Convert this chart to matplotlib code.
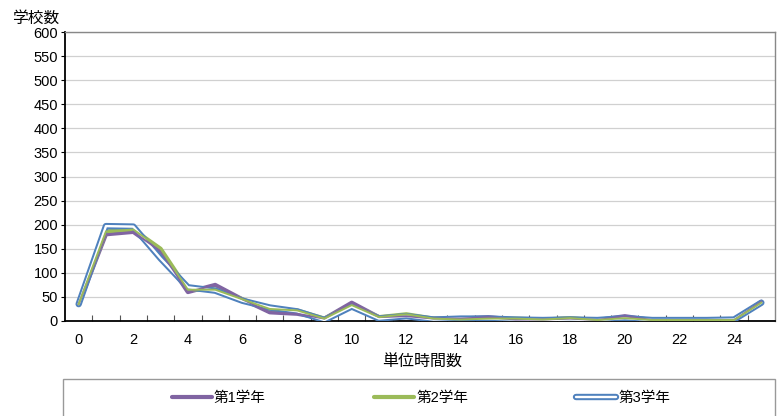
import numpy as np
import matplotlib.pyplot as plt
import matplotlib.patheffects as pe
from matplotlib.lines import Line2D
from matplotlib.patches import Rectangle

plt.rcParams['font.family'] = ['Liberation Sans', 'Noto Sans CJK JP']

# number of unit hours (categories) and schools per grade
hours   = np.arange(0, 26)
grade1  = [35, 180, 185, 145, 60, 75, 45, 18, 15, 5, 38, 8, 10, 5, 5, 8, 3, 3, 5, 2, 10, 2, 2, 2, 2, 40]
grade2  = [35, 186, 190, 150, 65, 65, 45, 25, 22, 5, 33, 8, 14, 5, 3, 5, 5, 3, 6, 2, 6, 2, 2, 2, 2, 38]
grade3  = [35, 197, 196, 130, 70, 63, 42, 28, 20, 2, 30, 5, 10, 3, 5, 5, 3, 2, 3, 2, 6, 2, 2, 2, 3, 38]
labels  = ['第1学年', '第2学年', '第3学年']

c_purple = '#8064A2'
c_green  = '#9BBB59'
c_blue   = '#4F81BD'

fig = plt.figure(figsize=(7.77, 4.16), dpi=100)
ax  = fig.add_axes([65/777, 1 - 321/416, 710/777, 289/416])

# solid series underneath, double-outline series on top
ax.plot(hours, grade1, color=c_purple, lw=3.0, zorder=3, solid_joinstyle='round', solid_capstyle='round')
ax.plot(hours, grade2, color=c_green,  lw=3.0, zorder=3, solid_joinstyle='round', solid_capstyle='round')
double = [pe.Stroke(linewidth=4.6, foreground=c_blue), pe.Normal()]
ax.plot(hours, grade3, color='white', lw=1.7, zorder=4, solid_joinstyle='round', solid_capstyle='round',
        path_effects=double)
# let the lines below show through the hollow centre
ax.plot(hours, grade1, color=c_purple, lw=1.4, zorder=5, solid_joinstyle='round')
ax.plot(hours, grade2, color=c_green,  lw=1.4, zorder=5, solid_joinstyle='round')

ax.set_xlim(-0.5, 25.5)
ax.set_ylim(0, 600)
ax.set_yticks(np.arange(0, 601, 50))
ax.set_xticks(np.arange(0, 25, 2))
ax.set_xticks(np.arange(0.5, 25, 1), minor=True)
ax.tick_params(axis='x', which='major', length=0, labelsize=10.5, pad=9)
ax.tick_params(axis='x', which='minor', direction='in', length=4, width=0.8, color='#555555')
ax.tick_params(axis='y', length=3, labelsize=10.5, pad=2)
ax.grid(axis='y', color='#d0d0d0', lw=0.9, zorder=0)
ax.set_axisbelow(True)

for side in ('left', 'bottom'):
    ax.spines[side].set_color('black')
    ax.spines[side].set_linewidth(1.3)
for side in ('top', 'right'):
    ax.spines[side].set_color('#888888')
    ax.spines[side].set_linewidth(1.0)

fig.text(12/777, 1 - 18/416, '学校数', fontsize=11.3, va='center', ha='left')
fig.text(422/777, 1 - 362/416, '単位時間数', fontsize=11.5, va='center', ha='center')

# legend in a framed box along the bottom
fig.patches.append(Rectangle((63/777, -5/416), 712/777, 42/416, transform=fig.transFigure,
                             facecolor='none', edgecolor='#999999', lw=1.0))
handles = [
    Line2D([], [], color=c_purple, lw=3.0, solid_capstyle='round'),
    Line2D([], [], color=c_green, lw=3.0, solid_capstyle='round'),
    Line2D([], [], color='white', lw=1.7, solid_capstyle='round', path_effects=double),
]
fig.legend(handles, labels, ncol=3, frameon=False, loc='center',
           bbox_to_anchor=(421/777, 18/416), fontsize=10.5,
           handlelength=2.75, handletextpad=0.15, columnspacing=7.4)

plt.savefig('out.png', dpi=100)
